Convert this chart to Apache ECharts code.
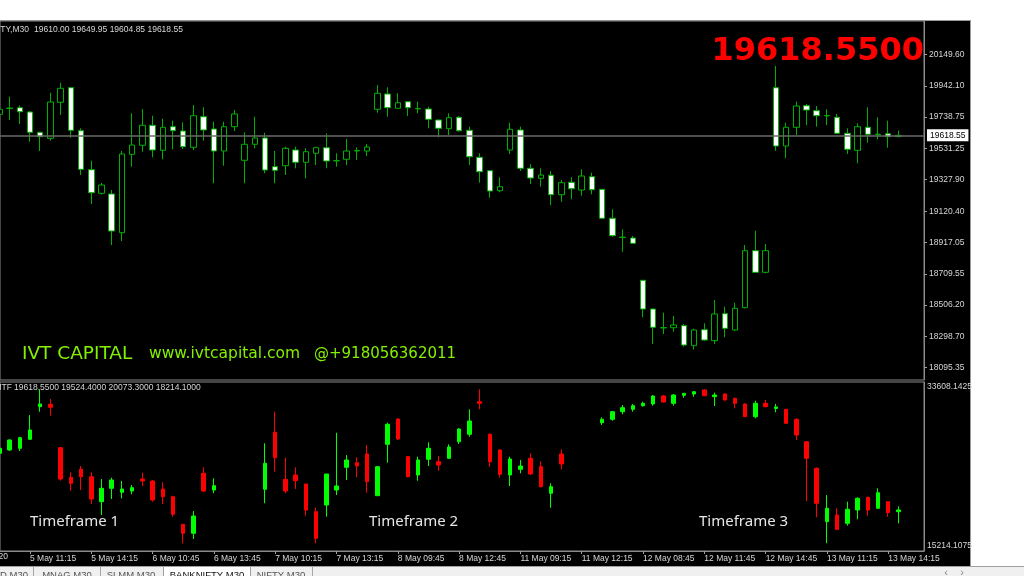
<!DOCTYPE html>
<html>
<head>
<meta charset="utf-8">
<title>BANKNIFTY M30</title>
<script src="https://cdn.jsdelivr.net/npm/echarts@6.0.0/dist/echarts.min.js"></script>
<style>
  html, body { margin:0; padding:0; width:1024px; height:576px; overflow:hidden; background:#fff; }
  #frame { position:absolute; left:0; top:20px; width:971px; height:546px; background:#000; border-top:1px solid #9a9a9a; border-right:1px solid #9a9a9a; box-sizing:border-box; }
  #tabs { position:absolute; left:0; top:566px; width:1024px; height:10px; background:#f0f0f0; border-top:1px solid #a0a0a0; box-sizing:border-box; }
  #chart { position:absolute; left:0; top:0; width:1024px; height:576px; }
</style>
</head>
<body>
<div id="frame"></div>
<div id="tabs"></div>
<div id="chart"></div>
<script>
// ---------- categories (30-minute bars) ----------
const days = ['5 May', '6 May', '7 May', '8 May', '11 May', '12 May', '13 May'];
const sessionTimes = ['08:45', '09:15', '09:45', '10:15', '10:45', '11:15', '11:45', '12:15', '12:45', '13:15', '13:45', '14:15', '14:45'];
const timeLabelIndex = [4, 10, 16, 22, 28, 34, 40, 46, 52, 58, 64, 70, 76, 82, 88];
const firstAxisLabel = '5 May 2020';

// ---------- main panel (price candles) ----------
const topOpen = [null, 19756.3, 19794, 19799.5, 19771.4, 19638.3, 19598.9, 19834.9, 19930.6, 19648.8,
  19393.1, 19238.4, 19233.8, 18980.2, 19494.1, 19553.1, 19684.2, 19520.3, 19675.0, 19646.8,
  19540.0, 19740.5, 19659.9, 19515.7, 19675.0, 19454.7, 19559.6, 19600.9, 19412.8, 19419.3,
  19522.3, 19441.6, 19500.6, 19537.3, 19451, 19461.3, 19516, 19515.7, 19789.0, 19889.3,
  19795.6, 19838.9, 19792, 19791.0, 19718.9, 19661.9, 19736.6, 19651.4, 19474.4, 19386.6,
  19255.5, 19522.3, 19653.4, 19402.3, 19336.7, 19356.4, 19229.2, 19310.5, 19260.0, 19347.2,
  19264.6, 19074.5, 18949, 18945.4, 18668.1, 18480.0, 18356, 18357.4, 18370.6, 18239.4,
  18344.3, 18272.2, 18449.3, 18342.4, 18488.6, 18862.2, 18720.6, 19930.6, 19548.5, 19671.1,
  19812.7, 19779.9, 19746, 19736.6, 19631.7, 19520.3, 19671.1, 19624, 19629.1, 19610.00,
  null, null];
const topClose = [null, 19789.1, 19797, 19773.3, 19638.3, 19609.4, 19836.9, 19926.7, 19651.4, 19395.7,
  19242.4, 19292.8, 18991.3, 19496.0, 19555.0, 19684.2, 19522.3, 19671.1, 19648.8, 19543.9,
  19747.1, 19653.4, 19515.7, 19675.0, 19758.2, 19559.6, 19600.9, 19391.1, 19389.2, 19533.4,
  19441.6, 19511.1, 19537.3, 19450.1, 19453, 19515.7, 19519, 19541.9, 19893.9, 19799.5,
  19832.3, 19799.5, 19794, 19723.5, 19664.5, 19734.0, 19648.8, 19478.3, 19380.0, 19253.5,
  19281.7, 19657.9, 19402.3, 19338.7, 19358.4, 19229.2, 19307.9, 19268.6, 19351.8, 19262.0,
  19074.5, 18960.5, 18951, 18910.7, 18480.0, 18360.0, 18358, 18375.1, 18244.0, 18342.4,
  18276.8, 18447.2, 18353.5, 18484.6, 18862.2, 18720.6, 18862.2, 19548.5, 19671.1, 19810.7,
  19784.4, 19747.1, 19748, 19631.7, 19526.8, 19675.0, 19625.2, 19626, 19609.4, 19618.55,
  null, null];
const topLow = [null, 19732.0, 19718.9, 19692.7, 19576.7, 19515.7, 19583.2, 19751.7, 19602.9, 19358.4,
  19168.3, 19230.5, 18899.5, 18925.7, 19412.8, 19511.1, 19474.4, 19461.3, 19526.8, 19528.8,
  19522.3, 19583.2, 19304.0, 19419.3, 19646.8, 19304.0, 19533.4, 19369.5, 19304.0, 19358.4,
  19402.3, 19336.7, 19423.9, 19402.3, 19412.8, 19423.9, 19456.7, 19482.9, 19766.7, 19740.5,
  19794.3, 19745.1, 19762.8, 19664.5, 19605.5, 19620.6, 19642.2, 19423.9, 19307.9, 19209.6,
  19245.0, 19496.0, 19384.6, 19299.4, 19281.7, 19161.7, 19183.4, 19199.1, 19222.7, 19231.9,
  19070.0, 18954.0, 18855.6, 18909.4, 18425.6, 18250.6, 18316.1, 18331.2, 18232.9, 18214.1,
  18272.2, 18250.6, 18294.5, 18335.8, 18483.3, 18716.0, 18714.0, 19517.7, 19467.9, 19620.6,
  19686.1, 19675.0, 19686.1, 19630.4, 19496.0, 19435.1, 19570.1, 19592.4, 19537.3, 19604.85,
  null, null];
const topHigh = [null, 19817.3, 19871.6, 19813.9, 19777.9, 19640.2, 19897.9, 19963.4, 19935.2, 19664.5,
  19452.1, 19305.9, 19260.0, 19515.7, 19762.8, 19791.0, 19747.1, 19727.4, 19714.3, 19703.8,
  19817.3, 19802.2, 19707.8, 19707.8, 19784.4, 19638.3, 19740.5, 19635.7, 19515.7, 19543.9,
  19543.9, 19533.4, 19543.9, 19631.7, 19500.6, 19594.4, 19540.0, 19561.6, 19948.3, 19933.2,
  19893.9, 19843.5, 19838.9, 19806.1, 19722.2, 19762.8, 19745.1, 19675.0, 19500.6, 19391.1,
  19343.3, 19701.2, 19675.0, 19430.5, 19402.3, 19384.6, 19325.6, 19343.3, 19395.7, 19373.5,
  19266.6, 19133.5, 19002.4, 18958.5, 18670.1, 18483.3, 18455.8, 18434.1, 18381.7, 18350.9,
  18386.3, 18539.0, 18495.1, 18521.3, 18899.5, 18993.3, 18906.1, 20073.3, 19701.2, 19838.9,
  19823.8, 19810.7, 19789.1, 19758.2, 19664.5, 19697.3, 19802.2, 19736.6, 19714.3, 19649.95,
  null, null];
const priceTicks = [20149.60, 19942.10, 19738.75, 19531.25, 19327.90, 19120.40, 18917.05, 18709.55, 18506.20, 18298.70, 18095.35];
const priceAxisMin = 18014.6;
const priceAxisMax = 20367.9;
const barAxisMin = 1.067;
const barAxisMax = 91.5;
const lastPrice = 19618.55;
const symbolName = 'BANKNIFTY,M30';

// ---------- lower panel (multi-timeframe candles) ----------
const btmOpen = [null, 25848, 26207, 26392, 27371, 30920, 31181, 26457, 23236, 24106,
  23301, 20580, 22038, 21603, 21744, 23051, 22833, 21962, 21124, 18120,
  17141, 23671, 21853, null, null, null, null, 21929, 28134, 23018,
  23486, 22507, 19492, 20221, 21853, 24324, 24825, 25772, 21233, 26827,
  29581, 25478, 23486, 25195, 24933, 25304, 27110, 27916, 31464, 27916,
  26207, 23486, 24106, 25304, 24389, 21494, 25772, null, null, null,
  29178, 29548, 30376, 30637, 31029, 31214, 32085, 31290, 32161, 32302,
  32737, 32008, 32302, 31834, 31214, 29832, 31290, 30724, 30637, 29548,
  27110, 24214, 18403, 19133, 18229, 19677, 21059, 19862, 20580, 19492,
  null, null];
const btmClose = [null, 26392, 27295, 27545, 28384, 31214, 30855, 23051, 22583, 23301,
  20874, 22038, 22942, 21962, 22103, 22833, 20765, 21124, 19209, 17141,
  19024, 21744, 22322, null, null, null, null, 24759, 25369, 21744,
  22866, 19677, 16596, 23595, 22289, 25119, 24465, 22757, 24389, 29004,
  27404, 23301, 25119, 26392, 24574, 26533, 28493, 29363, 31290, 24933,
  23562, 25228, 24465, 23595, 22213, 22213, 24684, null, null, null,
  29548, 30376, 30811, 31029, 31290, 32085, 31432, 32193, 32378, 32552,
  32117, 32193, 31649, 31290, 29832, 31290, 30920, 30888, 29113, 27839,
  25304, 20406, 19862, 17565, 19753, 20950, 19677, 21559, 19384, 19677,
  null, null];
const btmLow = [null, 25663, 26098, 26098, 27295, 30376, 29940, 22866, 21777, 21853,
  20330, 19133, 20874, 20950, 21385, 22289, 20580, 20330, 18948, 16052,
  16520, 21668, 21494, null, null, null, null, 20406, 23845, 21494,
  21962, 19057, 16052, 18948, 21309, 22942, 23236, 21559, 21200, 24825,
  27295, 23236, 22866, 24465, 23954, 25304, 26860, 27654, 30637, 24389,
  23192, 22289, 23671, 23519, 22148, 19927, 24106, null, null, null,
  28928, 29395, 30093, 30376, 30920, 31029, 31399, 31029, 31899, 32008,
  32085, 30996, 31573, 30746, 29799, 29657, 30855, 30311, 29037, 27295,
  20634, 18882, 16052, 17500, 17968, 18664, 19057, 19862, 18948, 18229,
  null, null];
const btmHigh = [null, 26642, 27371, 27654, 30016, 32813, 31758, 26533, 23780, 24465,
  23780, 23051, 23192, 22833, 22398, 23736, 22942, 22692, 21233, 18120,
  19568, 24324, 23127, null, null, null, null, 26936, 30376, 25369,
  24324, 22507, 19927, 23595, 28090, 25663, 25413, 26751, 24465, 29178,
  29657, 25554, 25478, 27045, 25554, 26827, 28569, 30637, 32813, 28025,
  26316, 25478, 25119, 25848, 24977, 22583, 26283, null, null, null,
  29766, 30452, 31105, 31214, 31464, 32193, 32193, 32302, 32378, 32628,
  32813, 32443, 32378, 31899, 31290, 31573, 31649, 31214, 30670, 29657,
  27187, 24324, 21309, 19862, 20580, 21059, 21124, 22038, 20580, 20069,
  null, null];
const subTicks = [33608.1425, 15214.1075];
const subHeaderName = 'MTF';
const subHeaderValues = [19618.5500, 19524.4000, 20073.3000, 18214.1000];
const timeframeLabels = ['Timeframe 1', 'Timeframe 2', 'Timeframe 3'];
const brandTexts = ['IVT CAPITAL', 'www.ivtcapital.com', '@+918056362011'];
const tabNames = ['D M30', 'MNAG M30', 'SLMM M30', 'BANKNIFTY M30', 'NIFTY M30'];
const activeTab = 3;

// ---------- build ----------
const categories = [];
days.forEach((d, di) => sessionTimes.forEach((t, ti) => {
  if (di === 0 && ti === 0) return;
  categories.push(d + ' ' + t);
}));

function zipOHLC(o, c, l, h) {
  const out = [];
  o.forEach((v, i) => { if (v != null) out.push([i, v, c[i], l[i], h[i]]); });
  return out;
}
const topData = zipOHLC(topOpen, topClose, topLow, topHigh);
const btmData = zipOHLC(btmOpen, btmClose, btmLow, btmHigh);
const lastIdx = topData[topData.length - 1][0];

const AX = 'Liberation Sans';
const axisTextColor = '#d6d6d6';

function txt(x, y, text, extra) {
  return {
    type: 'text', x: x, y: y, silent: true,
    style: Object.assign({
      text: text, fill: axisTextColor, fontSize: 8.5, fontFamily: AX,
      align: 'left', textAlign: 'left', verticalAlign: 'middle', textVerticalAlign: 'middle'
    }, extra || {})
  };
}
function alignStyle(a) { return { align: a, textAlign: a }; }
const tabStyle = { fill: '#555', fontSize: 9.5, verticalAlign: 'top', textVerticalAlign: 'top' };

const headerValues = [topOpen[lastIdx], topHigh[lastIdx], topLow[lastIdx], topClose[lastIdx]]
  .map(v => v.toFixed(2)).join(' ');

const graphics = [
  txt(29, 30, symbolName, alignStyle('right')),
  txt(34, 30, headerValues),
  txt(924, 52, lastPrice.toFixed(4), Object.assign({ fill: '#ff0000', fontSize: 32, fontWeight: 'bold', fontFamily: 'DejaVu Sans' }, alignStyle('right'))),
  txt(22, 354, brandTexts[0], { fill: '#84f000', fontSize: 18.5, fontFamily: 'DejaVu Sans' }),
  txt(149, 354, brandTexts[1], { fill: '#84f000', fontSize: 15.5, fontFamily: 'DejaVu Sans' }),
  txt(314, 354, brandTexts[2], { fill: '#84f000', fontSize: 15, fontFamily: 'DejaVu Sans' }),
  txt(12, 388, subHeaderName, alignStyle('right')),
  txt(14, 388, subHeaderValues.map(v => v.toFixed(4)).join(' ')),
  txt(30, 522, timeframeLabels[0], { fill: '#e6e6e6', fontSize: 15, fontFamily: 'Noto Sans' }),
  txt(369, 522, timeframeLabels[1], { fill: '#e6e6e6', fontSize: 15, fontFamily: 'Noto Sans' }),
  txt(699, 522, timeframeLabels[2], { fill: '#e6e6e6', fontSize: 15, fontFamily: 'Noto Sans' }),
  txt(8, 557, firstAxisLabel, alignStyle('right')),
  // tab strip
  { type: 'rect', shape: { x: 163.5, y: 566.5, width: 87, height: 12 }, style: { fill: '#ffffff', stroke: '#a0a0a0', lineWidth: 1 }, silent: true },
  { type: 'line', shape: { x1: 33.5, y1: 567, x2: 33.5, y2: 576 }, style: { stroke: '#a8a8a8', lineWidth: 1 }, silent: true },
  { type: 'line', shape: { x1: 100.5, y1: 567, x2: 100.5, y2: 576 }, style: { stroke: '#a8a8a8', lineWidth: 1 }, silent: true },
  { type: 'line', shape: { x1: 312.5, y1: 567, x2: 312.5, y2: 576 }, style: { stroke: '#a8a8a8', lineWidth: 1 }, silent: true },
  txt(0, 570, tabNames[0], tabStyle),
  txt(67, 570, tabNames[1], Object.assign({}, tabStyle, alignStyle('center'))),
  txt(131, 570, tabNames[2], Object.assign({}, tabStyle, alignStyle('center'))),
  txt(207, 570, tabNames[activeTab], Object.assign({}, tabStyle, { fill: '#111' }, alignStyle('center'))),
  txt(281, 570, tabNames[4], Object.assign({}, tabStyle, alignStyle('center'))),
  txt(946, 573, '\u2039', Object.assign({ fill: '#888', fontSize: 11 }, alignStyle('center'))),
  txt(962, 573, '\u203A', Object.assign({ fill: '#888', fontSize: 11 }, alignStyle('center')))
];

const chart = echarts.init(document.getElementById('chart'), null, { renderer: 'canvas' });
chart.setOption({
  animation: false,
  backgroundColor: 'transparent',
  grid: [
    { left: 0, top: 21, width: 924, height: 359, show: true, borderColor: '#8a8a8a', borderWidth: 1, backgroundColor: 'transparent' },
    { left: 0, top: 382, width: 924, height: 169, show: true, borderColor: '#8a8a8a', borderWidth: 1, backgroundColor: 'transparent' }
  ],
  xAxis: [
    { type: 'value', gridIndex: 0, min: barAxisMin, max: barAxisMax,
      axisLine: { show: false }, axisTick: { show: false }, axisLabel: { show: false }, splitLine: { show: false } },
    { type: 'value', gridIndex: 1, min: barAxisMin, max: barAxisMax,
      axisLine: { show: true, lineStyle: { color: '#8a8a8a' } },
      axisTick: { show: true, customValues: timeLabelIndex, length: 3, lineStyle: { color: '#a0a0a0' } },
      axisLabel: { show: true, customValues: timeLabelIndex, formatter: v => categories[Math.round(v)] || '',
        align: 'left', margin: 3, color: axisTextColor, fontSize: 8.5, fontFamily: AX, showMinLabel: true, showMaxLabel: true },
      splitLine: { show: false } }
  ],
  yAxis: [
    { type: 'value', gridIndex: 0, position: 'right', min: priceAxisMin, max: priceAxisMax,
      axisLine: { show: true, lineStyle: { color: '#8a8a8a' } },
      axisTick: { show: true, length: 3, customValues: priceTicks, lineStyle: { color: '#a0a0a0' } },
      axisLabel: { show: true, customValues: priceTicks, formatter: v => Number(v).toFixed(2), color: axisTextColor, fontSize: 8.5, fontFamily: AX, margin: 5 },
      splitLine: { show: false } },
    { type: 'value', gridIndex: 1, position: 'right', min: subTicks[1], max: subTicks[0],
      axisLine: { show: true, lineStyle: { color: '#8a8a8a' } },
      axisTick: { show: false },
      axisLabel: { show: true, customValues: subTicks, margin: 3, showMinLabel: true, showMaxLabel: true,
        formatter: v => (v > 24000 ? '{t|' : '{b|') + Number(v).toFixed(4) + '}',
        rich: {
          t: { color: axisTextColor, fontSize: 8.5, fontFamily: AX, padding: [10, 0, 0, 0] },
          b: { color: axisTextColor, fontSize: 8.5, fontFamily: AX, padding: [0, 0, 10, 0] }
        } },
      splitLine: { show: false } }
  ],
  series: [
    { type: 'candlestick', name: symbolName, xAxisIndex: 0, yAxisIndex: 0, data: topData,
      encode: { x: 0, y: [1, 2, 3, 4] }, barWidth: 6, clip: false,
      itemStyle: { color: '#000000', color0: '#ffffff', borderColor: '#00b000', borderColor0: '#00b000', borderWidth: 1 },
      markLine: { symbol: ['none', 'none'], silent: true, animation: false,
        data: [{ yAxis: lastPrice }],
        lineStyle: { color: '#6a6a6a', width: 1.5, type: 'solid' },
        label: { show: true, position: 'end', distance: 3, formatter: lastPrice.toFixed(2), color: '#000', backgroundColor: '#fff',
          padding: [2, 3, 1, 3], fontSize: 8.5, fontFamily: AX },
        emphasis: { disabled: true } } },
    { type: 'candlestick', name: subHeaderName, xAxisIndex: 1, yAxisIndex: 1, data: btmData,
      encode: { x: 0, y: [1, 2, 3, 4] }, barWidth: 4, clip: false,
      itemStyle: { color: '#00ff00', color0: '#ff0000', borderColor: '#00ff00', borderColor0: '#ff0000', borderWidth: 1 } }
  ],
  graphic: { elements: graphics }
});
</script>
</body>
</html>
